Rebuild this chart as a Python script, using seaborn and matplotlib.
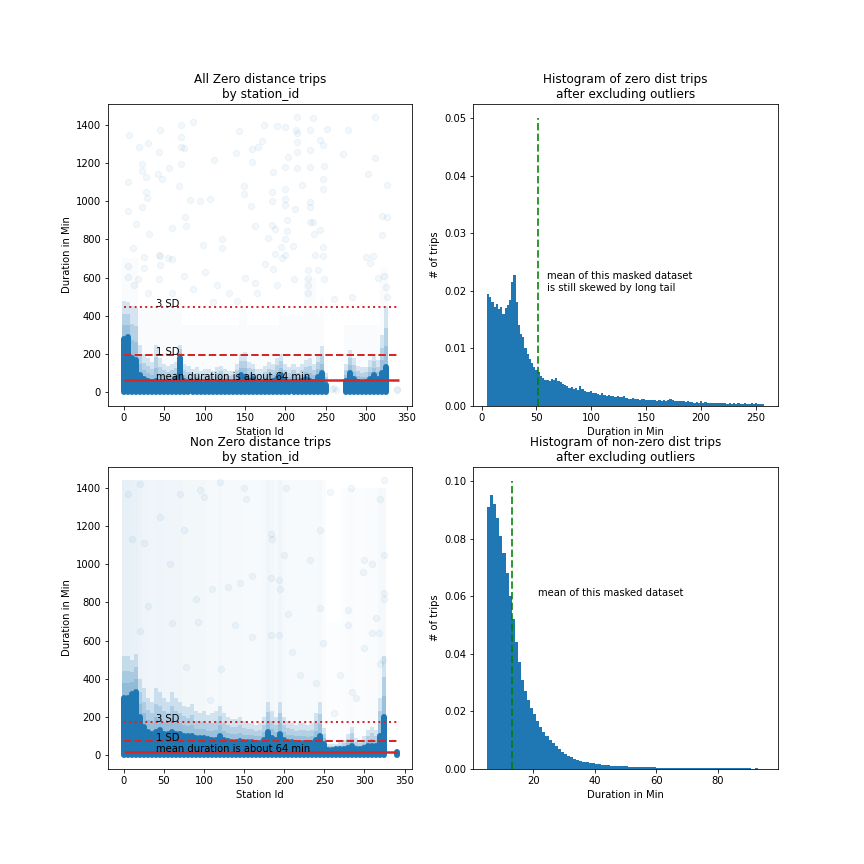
import numpy as np
import pandas as pd
import matplotlib
matplotlib.use("Agg")
import matplotlib.pyplot as plt
import seaborn as sns
from matplotlib.colors import to_rgba

BLUE = "#1f77b4"
RED = "tab:red"

# ---------------- histogram data ----------------
zero_hist_start = 5
zero_hist_width = 2
zero_hist_heights = [
    0.0195, 0.0190, 0.0180, 0.0172, 0.0178, 0.0168, 0.0172, 0.0160, 0.0170, 0.0175,
    0.0185, 0.0215, 0.0228, 0.0180, 0.0140, 0.0125, 0.0120, 0.0100, 0.0090, 0.0082,
    0.0075, 0.0068, 0.0062, 0.0060, 0.0052, 0.0048, 0.0045, 0.0046, 0.0044, 0.0047,
    0.0045, 0.0048, 0.0043, 0.0042, 0.0038, 0.0036, 0.0034, 0.0032, 0.0033, 0.0030,
    0.0031, 0.0028, 0.0034, 0.0030, 0.0026, 0.0025, 0.0024, 0.0026, 0.0022, 0.0023,
    0.0021, 0.0020, 0.0022, 0.0019, 0.0018, 0.0019, 0.0017, 0.0018, 0.0016, 0.0017,
    0.0015, 0.0016, 0.0018, 0.0014, 0.0013, 0.0012, 0.0014, 0.0012, 0.0013, 0.0011,
    0.0012, 0.0013, 0.0011, 0.0010, 0.0011, 0.0010, 0.0011, 0.0009, 0.0010, 0.0009,
    0.0010, 0.0009, 0.0011, 0.0012, 0.0010, 0.0009, 0.0008, 0.0009, 0.0008, 0.0008,
    0.0007, 0.0008, 0.0007, 0.0007, 0.0006, 0.0007, 0.0006, 0.0008, 0.0006, 0.0007,
    0.0006, 0.0005, 0.0006, 0.0005, 0.0006, 0.0005, 0.0005, 0.0006, 0.0005, 0.0004,
    0.0005, 0.0004, 0.0005, 0.0004, 0.0005, 0.0004, 0.0004, 0.0005, 0.0004, 0.0004,
    0.0005, 0.0004, 0.0005, 0.0004, 0.0004, 0.0003,
]
zero_hist_mean = 51

nonzero_hist_start = 5
nonzero_hist_width = 1
nonzero_hist_heights = [
    0.091, 0.095, 0.092, 0.087, 0.081, 0.075, 0.068, 0.060, 0.052, 0.044,
    0.037, 0.031, 0.027, 0.024, 0.021, 0.019, 0.0165, 0.0145, 0.013, 0.0115,
    0.0102, 0.0090, 0.0078, 0.0068, 0.0060, 0.0052, 0.0046, 0.0040, 0.0035, 0.0031,
    0.0028, 0.0025, 0.0023, 0.0021, 0.0019, 0.0017, 0.0016, 0.0015, 0.0014, 0.0013,
    0.0012, 0.0011, 0.0011, 0.0010, 0.0010, 0.0009, 0.0008, 0.0008, 0.0007, 0.0007,
    0.0007, 0.0006, 0.0006, 0.0006, 0.0006, 0.0005, 0.0005, 0.0005, 0.0005, 0.0005,
    0.0005, 0.0004, 0.0005, 0.0004, 0.0004, 0.0004, 0.0004, 0.0004, 0.0004, 0.0004,
    0.0004, 0.0003, 0.0004, 0.0003, 0.0003, 0.0003, 0.0003, 0.0003, 0.0003, 0.0003,
    0.0003, 0.0003, 0.0002, 0.0003, 0.0002, 0.0002, 0.0001, 0.0002, 0.0001, 0.0001,
]
nonzero_hist_mean = 13.2

# ---------------- reference lines ----------------
zero_mean, zero_sd1, zero_sd3 = 64, 197, 448
nonzero_mean, nonzero_sd1, nonzero_sd3 = 18, 72, 174
line_x_end = 340

# ---------------- zero-distance scatter: dense band per station ----------------
zero_band_station = [0, 5, 10, 15, 20, 25, 30, 35, 40, 45, 50, 55, 60, 65, 70, 75, 80, 85, 90, 95,
                     100, 105, 110, 115, 120, 125, 130, 135, 140, 145, 150, 155, 160, 165, 170, 175,
                     180, 185, 190, 195, 200, 205, 210, 215, 220, 225, 230, 235, 240, 245, 250,
                     275, 280, 285, 290, 295, 300, 305, 310, 315, 320, 325]
zero_band_core = [280, 290, 180, 170, 90, 70, 60, 55, 60, 50, 55, 50, 50, 70, 180, 60, 50, 50, 50, 45,
                  45, 50, 45, 50, 55, 50, 45, 50, 55, 90, 80, 60, 70, 45, 45, 50,
                  55, 60, 70, 90, 60, 50, 55, 50, 60, 70, 60, 55, 80, 100, 40,
                  60, 100, 70, 55, 50, 55, 70, 90, 70, 100, 130]
zero_band_mid = [480, 470, 450, 440, 250, 200, 180, 160, 250, 180, 150, 140, 150, 160, 250, 150, 140, 120, 130, 110,
                 120, 120, 110, 130, 140, 120, 110, 110, 150, 200, 210, 160, 150, 120, 120, 140,
                 160, 150, 180, 200, 150, 130, 150, 130, 150, 170, 180, 150, 200, 240, 100,
                 150, 220, 180, 140, 130, 130, 170, 200, 170, 300, 450]
zero_band_haze = [700, 700, 700, 700, 450, 450, 450, 450, 450, 450, 450, 450, 450, 450, 500, 350, 350, 350, 350, 350,
                  350, 350, 350, 350, 350, 350, 350, 350, 350, 450, 450, 350, 350, 350, 350, 350,
                  350, 350, 350, 450, 400, 400, 400, 400, 400, 600, 600, 600, 400, 500, 200,
                  350, 350, 350, 350, 350, 350, 350, 350, 350, 650, 650]
zero_haze_density = [0.022] * len(zero_band_station)

zero_pt_station = [214, 234, 311, 71, 86, 45, 6, 142, 174, 189, 199, 213, 214, 230, 252, 277, 19, 30, 71, 71,
                   75, 43, 111, 139, 159, 166, 171, 214, 214, 230, 243, 247, 271, 311, 22, 23, 27, 42, 47, 56,
                   71, 68, 5, 159, 184, 199, 203, 214, 230, 248, 247, 247, 302, 326, 149, 149, 183, 199, 199, 221,
                   28, 29, 82, 94, 107, 23, 5, 158, 183, 199, 212, 230, 230, 15, 31, 59, 76, 77, 98, 121,
                   121, 162, 183, 187, 202, 202, 209, 230, 234, 235, 243, 247, 178, 199, 319, 326, 319, 11, 25, 45,
                   59, 187, 196, 246, 309,
                   5, 5, 12, 18, 25, 30, 43, 45, 43, 55, 60, 75, 85, 100, 115, 130, 150, 162, 175, 185,
                   195, 200, 210, 228, 228, 228, 228, 240, 248, 260, 282, 300, 305, 315, 322, 324, 326, 110, 140, 190,
                   237, 165, 258, 260, 263, 338, 338]
zero_pt_duration = [1437, 1432, 1437, 1396, 1411, 1371, 1343, 1368, 1396, 1393, 1389, 1371, 1357, 1371, 1378, 1369, 1285, 1303, 1335, 1285,
                    1276, 1255, 1217, 1250, 1271, 1285, 1312, 1309, 1255, 1267, 1321, 1294, 1246, 1223, 1192, 1155, 1124, 1142, 1115, 1174,
                    1192, 1078, 1101, 1203, 1151, 1178, 1232, 1171, 1178, 1185, 1113, 1062, 1139, 1085, 1076, 1038, 1049, 1062, 1013, 1083,
                    1049, 1017, 1003, 999, 1013, 970, 949, 976, 999, 977, 960, 970, 994, 881, 829, 861, 918, 870, 772, 802,
                    755, 870, 874, 856, 899, 845, 763, 888, 892, 829, 847, 761, 809, 800, 922, 916, 820, 755, 709, 713,
                    698, 725, 703, 713, 713,
                    660, 605, 560, 590, 650, 520, 716, 668, 591, 700, 520, 610, 540, 630, 560, 520, 600, 570, 670, 645,
                    760, 720, 590, 640, 600, 560, 520, 640, 590, 490, 500, 710, 675, 600, 610, 550, 500, 470, 480, 560,
                    720, 520, 15, 25, 10, 10, 15]

# ---------------- non-zero-distance scatter ----------------
nonzero_band_station = [0, 5, 10, 15, 20, 25, 30, 35, 40, 45, 50, 55, 60, 65, 70, 75, 80, 85, 90, 95,
                        100, 105, 110, 115, 120, 125, 130, 135, 140, 145, 150, 155, 160, 165, 170, 175,
                        180, 185, 190, 195, 200, 205, 210, 215, 220, 225, 230, 235, 240, 245, 250,
                        255, 260, 265, 270, 275, 280, 285, 290, 295, 300, 305, 310, 315, 320, 325, 340]
nonzero_band_core = [300, 300, 320, 330, 200, 150, 120, 110, 120, 130, 110, 110, 120, 110, 110, 100, 100, 100, 90, 90,
                     90, 85, 80, 80, 100, 80, 75, 70, 70, 75, 70, 70, 70, 65, 65, 80,
                     120, 90, 80, 110, 80, 70, 70, 65, 65, 65, 60, 65, 80, 100, 60,
                     25, 25, 30, 30, 35, 40, 50, 35, 30, 40, 50, 50, 50, 100, 200, 15]
nonzero_band_mid = [520, 520, 500, 530, 400, 350, 300, 280, 350, 330, 300, 280, 330, 300, 280, 260, 250, 270, 230, 220,
                    230, 210, 220, 230, 260, 220, 200, 190, 190, 200, 180, 170, 170, 160, 170, 200,
                    280, 230, 200, 280, 200, 180, 170, 160, 170, 170, 160, 170, 220, 280, 140,
                    60, 60, 60, 70, 80, 110, 150, 90, 80, 100, 130, 150, 130, 300, 520, 25]
nonzero_band_haze = [1440] * 51 + [700, 700, 700, 700] + [1400] * 11 + [0]
nonzero_haze_density = [0.11, 0.11, 0.10, 0.10, 0.085, 0.075, 0.075, 0.065, 0.075, 0.075, 0.065, 0.065, 0.065, 0.065, 0.065,
                        0.055, 0.055, 0.055, 0.055, 0.055, 0.055, 0.045, 0.045, 0.045, 0.055, 0.045, 0.045, 0.04, 0.04, 0.04,
                        0.035, 0.035, 0.035, 0.03, 0.035, 0.045, 0.065, 0.055, 0.045, 0.065, 0.045, 0.035, 0.035, 0.03, 0.03,
                        0.03, 0.03, 0.03, 0.035, 0.045, 0.025, 0.01, 0.01, 0.01, 0.01, 0.015, 0.025, 0.025, 0.02, 0.02,
                        0.02, 0.025, 0.025, 0.025, 0.045, 0.045, 0.0]

nonzero_pt_station = [184, 194, 121, 107, 320, 323, 318, 248, 245, 195, 193, 183, 58, 45, 25, 10, 5, 20, 120, 150,
                      152, 183, 185, 200, 202, 232, 245, 257, 283, 300, 310, 325, 320, 325, 324, 325, 100, 95, 70, 75,
                      160, 160, 145, 138, 130, 110, 90, 30, 20, 60, 78, 92, 210, 220, 240, 285, 290, 300, 310, 315,
                      298, 280, 270, 205, 262, 280]
nonzero_pt_duration = [630, 630, 450, 290, 480, 500, 640, 590, 770, 870, 920, 930, 1000, 1250, 1110, 1130, 1370, 1420, 1430, 1400,
                       1340, 1160, 1130, 1050, 1400, 1020, 1180, 1380, 1400, 1020, 1000, 1440, 1340, 1050, 850, 820, 1350, 1390, 1370, 1180,
                       940, 620, 900, 680, 880, 870, 820, 780, 650, 690, 460, 700, 540, 420, 380, 330, 300, 560, 640, 720,
                       960, 760, 420, 740, 220, 680]

STATION_STEP = 5  # spacing of the station groups in the band arrays


def _soft_bars(ax, x, h, colors):
    bars = ax.bar(x, h, width=STATION_STEP, color=colors, linewidth=0, antialiased=False)
    for p in bars:
        p.sticky_edges.y[:] = []


def draw_scatter_panel(ax, stations, core, mid, haze, haze_density, pt_s, pt_d,
                       mean, sd1, sd3, title):
    stations = np.asarray(stations, dtype=float)
    core = np.asarray(core, dtype=float)
    mid = np.asarray(mid, dtype=float)
    # faint haze of many overlapping transparent circles
    _soft_bars(ax, stations, haze, [to_rgba(BLUE, a) for a in haze_density])
    # medium-density zone, drawn in layers so it fades upward
    for frac in (0.35, 0.65, 1.0):
        _soft_bars(ax, stations, core + (mid - core) * frac, [to_rgba(BLUE, 0.17)] * len(stations))
    # saturated core band
    ax.vlines(stations, 0, core, colors=BLUE, alpha=1.0, linewidth=6, capstyle="round")
    # individual sparse trips
    pts = pd.DataFrame({"station": pt_s, "duration": pt_d})
    sns.scatterplot(data=pts, x="station", y="duration", ax=ax, color=BLUE,
                    alpha=0.06, s=40, edgecolor=BLUE, linewidth=1, legend=False)
    ax.hlines(mean, 0, line_x_end, colors=RED, linewidth=2.5)
    ax.hlines(sd1, 0, line_x_end, colors=RED, linewidth=2, linestyles="--")
    ax.hlines(sd3, 0, line_x_end, colors=RED, linewidth=2, linestyles=":")
    ax.text(40, sd3, "3 SD", fontsize=10)
    ax.text(40, sd1, "1 SD", fontsize=10)
    ax.text(40, mean, "mean duration is about 64 min", fontsize=10)
    ax.set_title(title, fontsize=12)
    ax.set_xlabel("Station Id")
    ax.set_ylabel("Duration in Min")


def draw_hist_panel(ax, start, width, heights, mean_x, top, label, label_xy, title):
    n = len(heights)
    centers = start + width * (np.arange(n) + 0.5)
    df = pd.DataFrame({"duration": centers, "share": heights})
    sns.histplot(data=df, x="duration", weights="share", binwidth=width,
                 binrange=(start, start + width * n), ax=ax, color=BLUE,
                 alpha=1.0, linewidth=0, stat="count")
    ax.vlines(mean_x, 0, top, colors="green", linestyles="--", linewidth=2, alpha=0.8)
    ax.text(label_xy[0], label_xy[1], label, fontsize=10)
    ax.set_title(title, fontsize=12)
    ax.set_xlabel("Duration in Min")
    ax.set_ylabel("# of trips")


fig, axes = plt.subplots(2, 2, figsize=(12, 12), dpi=72)

draw_scatter_panel(axes[0, 0], zero_band_station, zero_band_core, zero_band_mid, zero_band_haze,
                   zero_haze_density, zero_pt_station, zero_pt_duration,
                   zero_mean, zero_sd1, zero_sd3, "All Zero distance trips\nby station_id")
draw_scatter_panel(axes[1, 0], nonzero_band_station, nonzero_band_core, nonzero_band_mid, nonzero_band_haze,
                   nonzero_haze_density, nonzero_pt_station, nonzero_pt_duration,
                   nonzero_mean, nonzero_sd1, nonzero_sd3, "Non Zero distance trips\nby station_id")

draw_hist_panel(axes[0, 1], zero_hist_start, zero_hist_width, zero_hist_heights, zero_hist_mean, 0.05,
                "mean of this masked dataset\nis still skewed by long tail", (60, 0.02),
                "Histogram of zero dist trips\nafter excluding outliers")
draw_hist_panel(axes[1, 1], nonzero_hist_start, nonzero_hist_width, nonzero_hist_heights, nonzero_hist_mean, 0.1,
                "mean of this masked dataset", (21.5, 0.06),
                "Histogram of non-zero dist trips\nafter excluding outliers")

fig.savefig("out.png", dpi=72)
